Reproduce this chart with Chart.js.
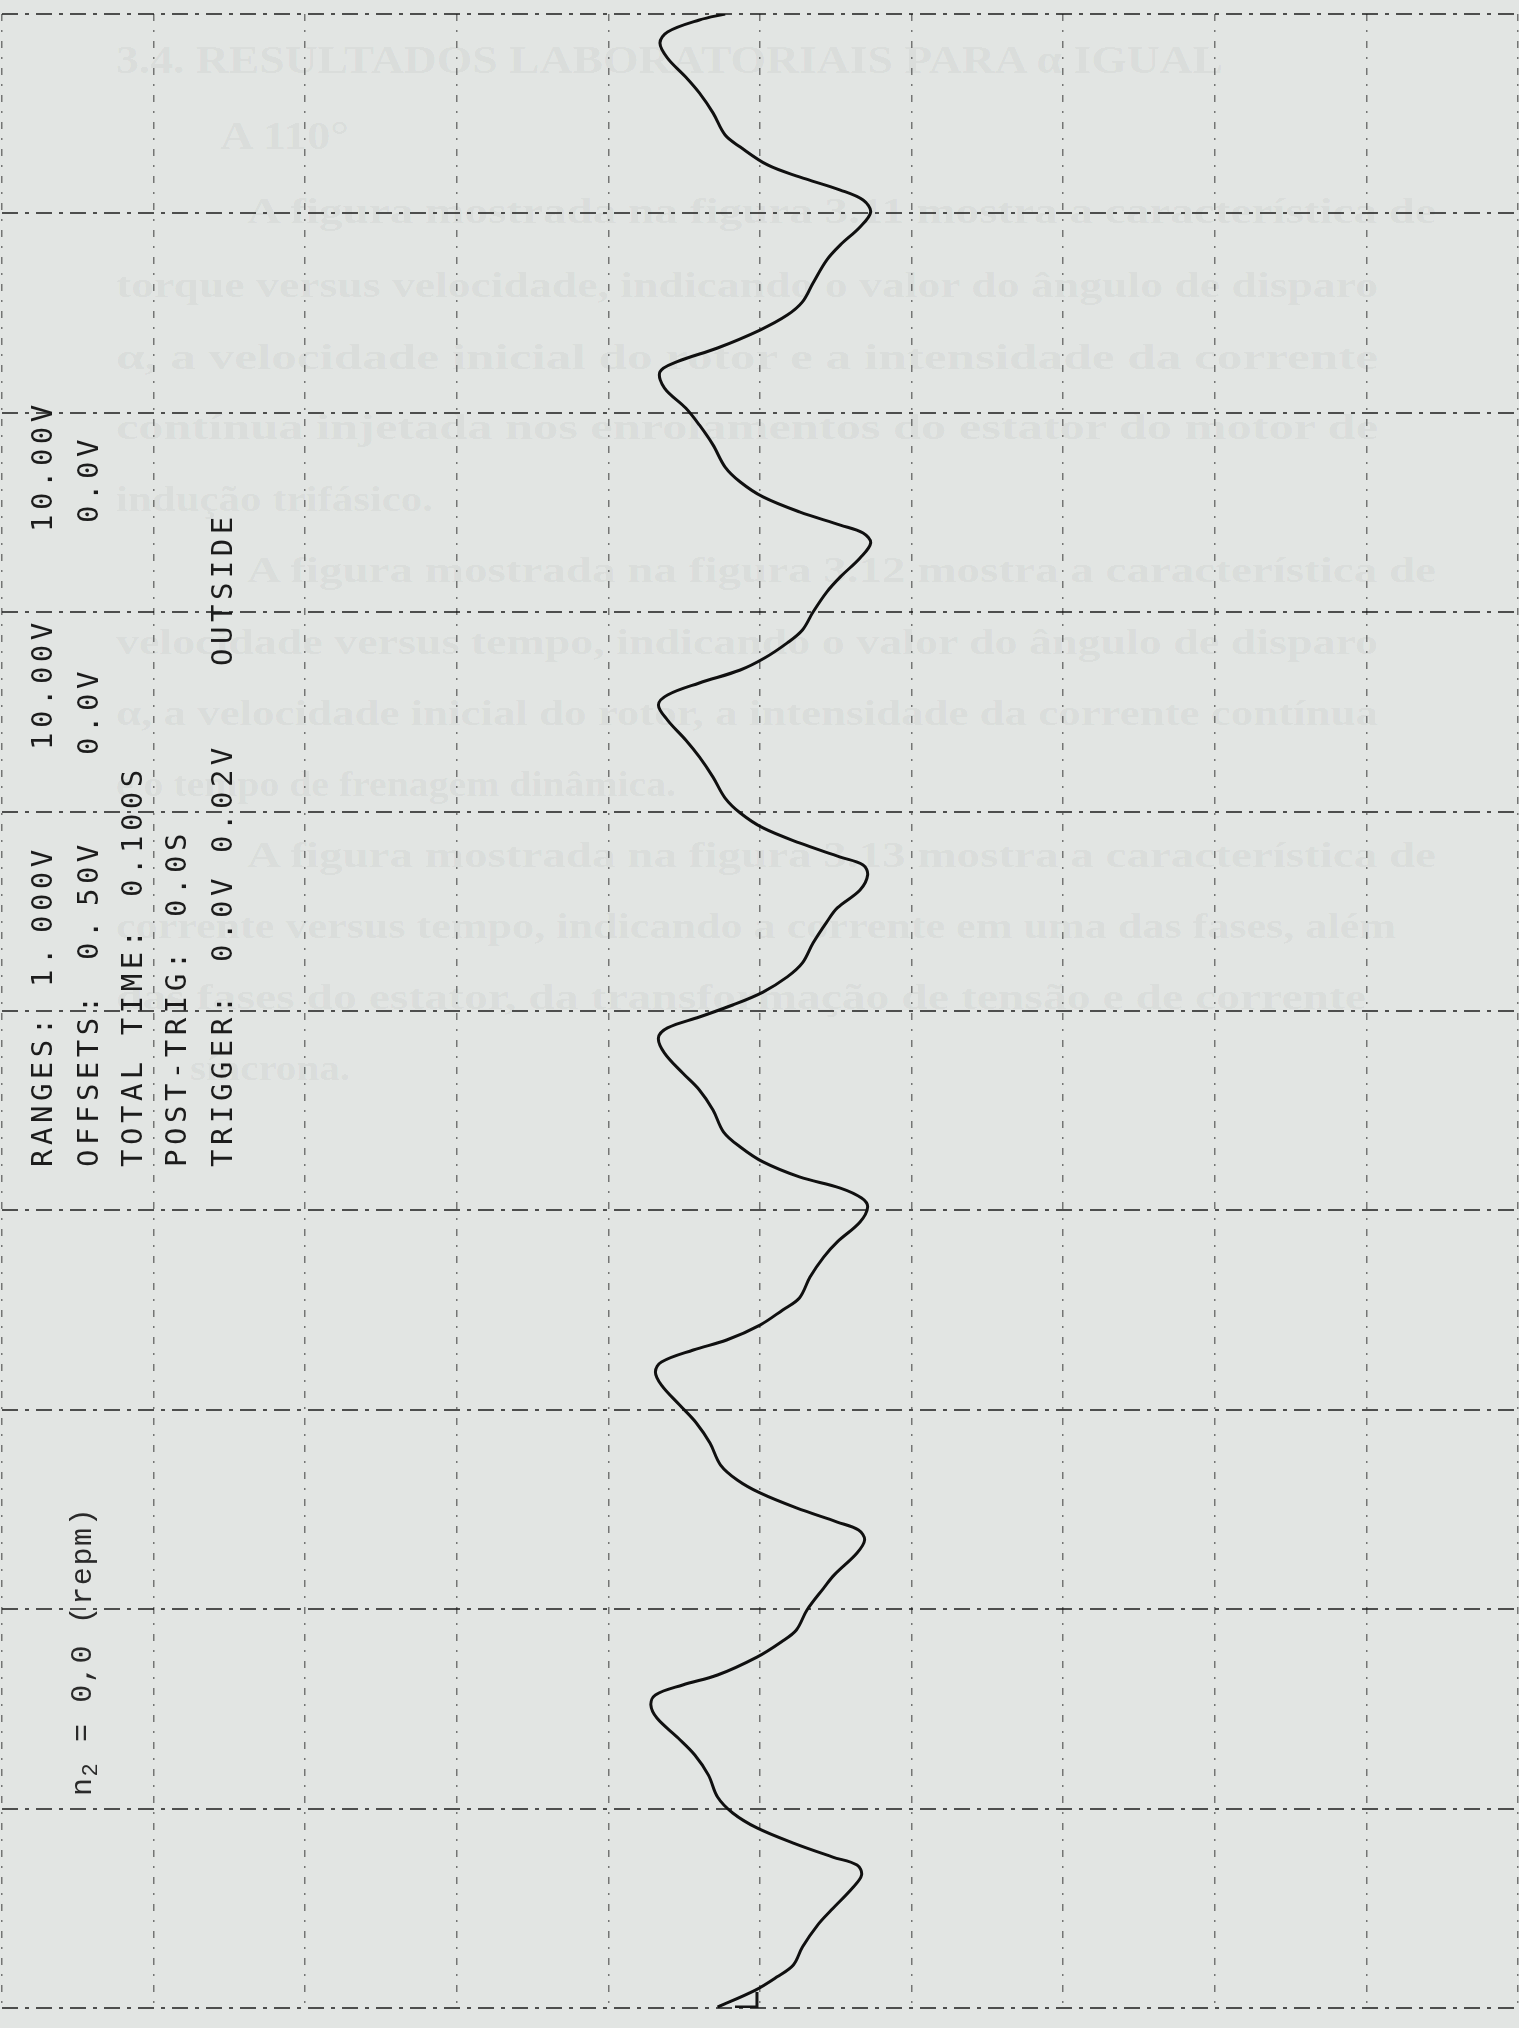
<!DOCTYPE html>
<html>
<head>
<meta charset="utf-8">
<script src="https://cdn.jsdelivr.net/npm/chart.js@4.4.0/dist/chart.umd.min.js"></script>
<style>
html,body{margin:0;padding:0;background:#e2e5e3;}
#page{position:relative;width:1519px;height:2028px;overflow:hidden;background:#e2e5e3;}
#bleed{position:absolute;left:0;top:0;}
#chart{position:absolute;left:0;top:0;}
.rot{position:absolute;transform-origin:0 0;transform:rotate(-90deg);white-space:nowrap;line-height:1;}
.plot{font-family:"DejaVu Sans Mono",monospace;font-size:29px;letter-spacing:4.5px;color:#1c1c1c;}
.gap{margin-left:10px;}
.note{font-family:"Liberation Mono",monospace;font-size:30px;letter-spacing:1.6px;color:#2a2a2a;}
.note sub{font-size:22px;vertical-align:-6px;}
</style>
</head>
<body>
<div id="page">
<svg id="bleed" width="1519" height="2028" font-family="Liberation Serif, serif" font-weight="bold" fill="#000" fill-opacity="0.05">
  <text x="116" y="73" font-size="40" textLength="1107" lengthAdjust="spacingAndGlyphs">3.4. RESULTADOS LABORATORIAIS PARA α IGUAL</text>
  <text x="220" y="149" font-size="40" textLength="129" lengthAdjust="spacingAndGlyphs">A 110°</text>
  <text x="247" y="223" font-size="36" textLength="1189" lengthAdjust="spacingAndGlyphs">A figura mostrada na figura 3.11 mostra a característica de</text>
  <text x="116" y="297" font-size="36" textLength="1262" lengthAdjust="spacingAndGlyphs">torque versus velocidade, indicando o valor do ângulo de disparo</text>
  <text x="116" y="369" font-size="36" textLength="1262" lengthAdjust="spacingAndGlyphs">α, a velocidade inicial do rotor e a intensidade da corrente</text>
  <text x="116" y="439" font-size="36" textLength="1262" lengthAdjust="spacingAndGlyphs">contínua injetada nos enrolamentos do estator do motor de</text>
  <text x="116" y="511" font-size="36" textLength="317" lengthAdjust="spacingAndGlyphs">indução trifásico.</text>
  <text x="247" y="582" font-size="36" textLength="1189" lengthAdjust="spacingAndGlyphs">A figura mostrada na figura 3.12 mostra a característica de</text>
  <text x="116" y="654" font-size="36" textLength="1262" lengthAdjust="spacingAndGlyphs">velocidade versus tempo, indicando o valor do ângulo de disparo</text>
  <text x="116" y="725" font-size="36" textLength="1262" lengthAdjust="spacingAndGlyphs">α, a velocidade inicial do rotor, a intensidade da corrente contínua</text>
  <text x="116" y="796" font-size="36" textLength="560" lengthAdjust="spacingAndGlyphs">e o tempo de frenagem dinâmica.</text>
  <text x="247" y="867" font-size="36" textLength="1189" lengthAdjust="spacingAndGlyphs">A figura mostrada na figura 3.13 mostra a característica de</text>
  <text x="116" y="938" font-size="36" textLength="1280" lengthAdjust="spacingAndGlyphs">corrente versus tempo, indicando a corrente em uma das fases, além</text>
  <text x="116" y="1009" font-size="36" textLength="1250" lengthAdjust="spacingAndGlyphs">das fases do estator, da transformação de tensão e de corrente</text>
  <text x="190" y="1080" font-size="36" textLength="160" lengthAdjust="spacingAndGlyphs">síncrona.</text>
</svg>
<canvas id="chart" width="1519" height="2028"></canvas>

<div class="rot plot" style="left:28px;top:1167px">RANGES:</div>
<div class="rot plot" style="left:28px;top:987px">1.<span class="gap">000V</span></div>
<div class="rot plot" style="left:28px;top:750px">10.00V</div>
<div class="rot plot" style="left:28px;top:532px">10.00V</div>

<div class="rot plot" style="left:74px;top:1167px">OFFSETS:</div>
<div class="rot plot" style="left:74px;top:960px">0.<span class="gap">50V</span></div>
<div class="rot plot" style="left:74px;top:755px">0.0V</div>
<div class="rot plot" style="left:74px;top:523px">0.0V</div>

<div class="rot plot" style="left:118px;top:1167px">TOTAL TIME:</div>
<div class="rot plot" style="left:118px;top:897px">0.100S</div>

<div class="rot plot" style="left:162px;top:1167px">POST-TRIG:</div>
<div class="rot plot" style="left:162px;top:917px">0.0S</div>

<div class="rot plot" style="left:208px;top:1167px">TRIGGER:</div>
<div class="rot plot" style="left:208px;top:962px">0.0V</div>
<div class="rot plot" style="left:208px;top:853px">0.02V</div>
<div class="rot plot" style="left:208px;top:666px">OUTSIDE</div>

<div class="rot note" style="left:68px;top:1796px">n<sub>2</sub> = 0,0 (repm)</div>
</div>

<script>
// ---- data (time in ms, signal in V) ----
const timeMs = [
  0.05, 0.90, 1.55, 2.16, 3.06, 4.16, 4.91, 6.02, 6.67, 7.17, 7.57, 8.27, 9.03, 9.78,
  10.58, 11.68, 12.69, 13.54, 14.54, 15.20, 15.70, 16.20, 16.70, 17.60, 18.36, 18.96,
  19.96, 21.06, 21.72, 22.82, 23.47, 23.97, 24.37, 25.08, 25.83, 26.48, 27.23, 28.33,
  29.34, 30.24, 31.24, 31.90, 32.40, 33.00, 33.50, 34.25, 35.01, 35.61, 36.66, 37.66,
  38.42, 39.42, 40.17, 40.62, 41.12, 41.68, 42.43, 43.18, 43.93, 45.04, 46.04, 46.89,
  47.89, 48.65, 49.15, 49.70, 50.30, 50.95, 51.71, 52.41, 53.41, 54.46, 55.17, 56.07,
  56.82, 57.32, 57.72, 58.43, 59.18, 59.93, 60.68, 61.73, 62.74, 63.59, 64.59, 65.35,
  65.85, 66.45, 67.10, 67.70, 68.46, 69.11, 70.01, 71.01, 71.77, 72.72, 73.47, 73.97,
  74.37, 75.03, 75.78, 76.53, 77.28, 78.39, 79.39, 80.24, 81.24, 82.05, 82.55, 83.25,
  84.15, 84.90, 85.56, 86.51, 87.66, 88.42, 89.32, 90.07, 90.67, 91.17, 91.83, 92.43,
  93.33, 93.93, 95.04, 96.04, 96.84, 97.79, 98.55, 99.10, 99.70, 100.0
];
const volts = [
  0.528, 0.503, 0.489, 0.478, 0.472, 0.462, 0.453, 0.439, 0.433, 0.436, 0.452, 0.478, 0.502, 0.518,
  0.528, 0.534, 0.543, 0.554, 0.568, 0.572, 0.569, 0.551, 0.528, 0.502, 0.486, 0.476,
  0.469, 0.458, 0.451, 0.436, 0.431, 0.435, 0.449, 0.476, 0.500, 0.515, 0.526, 0.533,
  0.542, 0.553, 0.565, 0.569, 0.565, 0.544, 0.522, 0.500, 0.485, 0.474, 0.467, 0.458,
  0.449, 0.434, 0.429, 0.433, 0.447, 0.474, 0.498, 0.513, 0.524, 0.531, 0.540, 0.551,
  0.563, 0.567, 0.561, 0.540, 0.518, 0.498, 0.482, 0.472, 0.465, 0.456, 0.449, 0.434,
  0.429, 0.432, 0.447, 0.474, 0.498, 0.513, 0.523, 0.531, 0.540, 0.549, 0.561, 0.567,
  0.561, 0.540, 0.513, 0.497, 0.482, 0.472, 0.465, 0.456, 0.447, 0.434, 0.427, 0.432,
  0.447, 0.474, 0.498, 0.513, 0.523, 0.531, 0.540, 0.549, 0.563, 0.566, 0.555, 0.528,
  0.500, 0.482, 0.472, 0.465, 0.456, 0.447, 0.434, 0.427, 0.432, 0.447, 0.474, 0.495,
  0.513, 0.523, 0.531, 0.540, 0.549, 0.561, 0.566, 0.561, 0.540, 0.523
];
// trigger marker drawn by the plotter at the start of the record
const triggerTimeMs = [0.05, 0.05, 0.80];
const triggerVolts = [0.5165, 0.502, 0.502];
// grid divisions: 10 time divisions (0.100 S total) and 10 amplitude divisions
const timeTicks = [0, 10, 20, 30, 40, 50, 60, 70, 80, 90, 100];
const voltTicks = [0, 0.1, 0.2, 0.3, 0.4, 0.5, 0.6, 0.7, 0.8, 0.9, 1.0];

const tracePoints = timeMs.map((t, i) => ({ x: volts[i], y: t }));
const triggerPoints = triggerTimeMs.map((t, i) => ({ x: triggerVolts[i], y: t }));

new Chart(document.getElementById('chart'), {
  type: 'scatter',
  data: {
    datasets: [
      {
        label: 'trace',
        data: tracePoints,
        showLine: true,
        borderColor: '#101010',
        borderWidth: 3,
        pointRadius: 0,
        tension: 0.35,
        fill: false
      },
      {
        label: 'trigger',
        data: triggerPoints,
        showLine: true,
        borderColor: '#151515',
        borderWidth: 3,
        pointRadius: 0,
        tension: 0,
        fill: false
      }
    ]
  },
  options: {
    responsive: false,
    animation: false,
    devicePixelRatio: 1,
    layout: { autoPadding: false, padding: { left: 2, right: 1, top: 14, bottom: 20 } },
    plugins: { legend: { display: false }, tooltip: { enabled: false } },
    scales: {
      x: {
        type: 'linear', min: 0, max: 1, reverse: true,
        afterBuildTicks: s => { s.ticks = voltTicks.map(v => ({ value: v })); },
        ticks: { display: false },
        grid: { color: 'rgba(25,25,25,0.55)', lineWidth: 1.5, drawTicks: false },
        border: { display: false, dash: [7, 9, 2, 9] }
      },
      y: {
        type: 'linear', min: 0, max: 100,
        afterBuildTicks: s => { s.ticks = timeTicks.map(v => ({ value: v })); },
        ticks: { display: false },
        grid: { color: 'rgba(20,20,20,0.72)', lineWidth: 2, drawTicks: false },
        border: { display: false, dash: [16, 7, 4, 7] }
      }
    }
  }
});
</script>
</body>
</html>
